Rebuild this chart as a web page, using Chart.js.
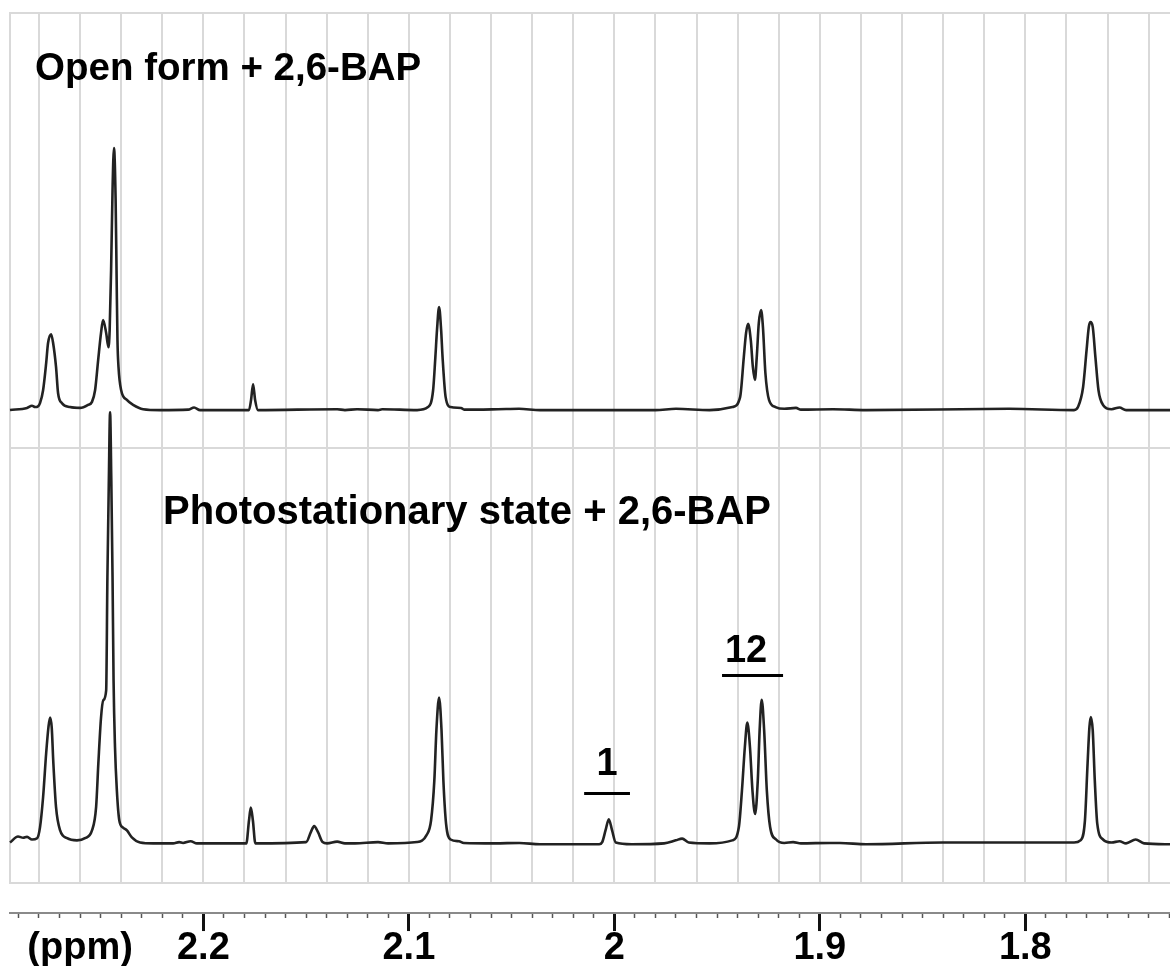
<!DOCTYPE html>
<html>
<head>
<meta charset="utf-8">
<title>Open form / photostationary state + 2,6-BAP</title>
<script src="https://cdn.jsdelivr.net/npm/chart.js@4.4.1/dist/chart.umd.min.js"></script>
<style>
  html, body { margin: 0; padding: 0; background: #fff; }
  #wrap { width: 1170px; height: 966px; position: relative; }
</style>
</head>
<body>
<div id="wrap"><canvas id="nmr"></canvas></div>
<script>
// 1H NMR traces: chemical shift (ppm) / intensity (arb. units, tallest line = 100)
const openShift = [
    2.2941, 2.2858, 2.2834, 2.2819, 2.2804, 2.2795, 2.2780, 2.2765, 2.2756, 2.2741, 2.2731, 2.2717, 2.2707, 2.2688, 2.2649, 2.2600,
    2.2561, 2.2542, 2.2527, 2.2512, 2.2498, 2.2488, 2.2473, 2.2462, 2.2456, 2.2449, 2.2442, 2.2435, 2.2427, 2.2422, 2.2418, 2.2413, 2.2400, 2.2371, 2.2342, 2.2293,
    2.2211, 2.2074, 2.2045, 2.2016, 2.1778, 2.1768, 2.1758, 2.1748, 2.1734, 2.1349, 2.1311, 2.1252, 2.1150, 2.1130, 2.0960,
    2.0907, 2.0882, 2.0871, 2.0863, 2.0853, 2.0843, 2.0836, 2.0821, 2.0797, 2.0746, 2.0731, 2.0566, 2.0464, 2.0362, 1.9800, 1.9700, 1.9537,
    1.9425, 1.9388, 1.9370, 1.9359, 1.9349, 1.9336, 1.9326, 1.9316, 1.9307, 1.9297, 1.9286, 1.9277, 1.9265, 1.9247, 1.9216, 1.9173, 1.9116, 1.9092, 1.8936, 1.8775, 1.8079,
    1.7763, 1.7744, 1.7719, 1.7702, 1.7691, 1.7683, 1.7672, 1.7659, 1.7644, 1.7622, 1.7580, 1.7542, 1.7510, 1.7296
];
const openIntensity = [
    0, 0.5, 1.0, 0.7, 0.9, 1.6, 4.6, 10.9, 15.5, 17.6, 15.5, 10.0, 3.9, 1.6, 0.7, 0.5,
    1.2, 1.9, 4.6, 11.6, 17.9, 20.9, 17.9, 14.6, 18.6, 32.5, 51.0, 60.8, 48.7, 30.2, 16.2, 10.0, 4.6, 2.3, 1.2, 0.2,
    0, 0.1, 0.6, 0, 0, 2.3, 6.0, 2.3, 0, 0.2, 0, 0.2, 0, 0.2, 0,
    0.7, 4.6, 12.3, 18.6, 23.9, 18.6, 12.3, 3.0, 0.7, 0.5, 0.1, 0.2, 0.3, 0, 0, 0.3, 0,
    0.7, 3.0, 12.3, 17.9, 20.0, 16.2, 10.0, 7.0, 12.3, 20.2, 23.2, 19.3, 8.6, 2.3, 0.7, 0.3, 0.5, 0.1, 0.2, 0, 0.3,
    0, 0.7, 5.3, 13.9, 19.3, 20.4, 19.3, 12.3, 4.6, 1.2, 0.2, 0.6, 0, 0
];

const pssShift = [
    2.2941, 2.2902, 2.2877, 2.2858, 2.2834, 2.2809, 2.2795, 2.2780, 2.2765, 2.2754, 2.2746, 2.2738, 2.2730, 2.2717, 2.2697, 2.2663, 2.2615,
    2.2576, 2.2542, 2.2522, 2.2511, 2.2498, 2.2487, 2.2473, 2.2467, 2.2460, 2.2454, 2.2448, 2.2442, 2.2437, 2.2430, 2.2421, 2.2409, 2.2392, 2.2372, 2.2348, 2.2308,
    2.2245, 2.2147, 2.2118, 2.2099, 2.2062, 2.2031, 2.1791, 2.1778, 2.1769, 2.1759, 2.1747, 2.1500, 2.1477, 2.1461, 2.1442, 2.1420, 2.1398, 2.1349, 2.1311, 2.1262, 2.1150, 2.1101,
    2.0960, 2.0914, 2.0892, 2.0876, 2.0866, 2.0853, 2.0841, 2.0832, 2.0819, 2.0797, 2.0756, 2.0733, 2.0581, 2.0462, 2.0362,
    2.0074, 2.0059, 2.0043, 2.0027, 2.0011, 1.9993, 1.9916, 1.9758, 1.9701, 1.9670, 1.9638, 1.9537,
    1.9426, 1.9394, 1.9379, 1.9365, 1.9353, 1.9340, 1.9328, 1.9315, 1.9302, 1.9293, 1.9283, 1.9271, 1.9258, 1.9242, 1.9213, 1.9173, 1.9130, 1.9092, 1.8950, 1.8902, 1.8775, 1.8403, 1.8079,
    1.7763, 1.7732, 1.7710, 1.7697, 1.7688, 1.7681, 1.7672, 1.7662, 1.7650, 1.7622, 1.7580, 1.7542, 1.7510, 1.7463, 1.7422, 1.7296
];
const pssIntensity = [
    0.2, 1.6, 1.3, 1.5, 0.9, 1.2, 3.7, 10.7, 20.9, 26.9, 29.2, 26.9, 18.6, 8.4, 3.0, 1.2, 0.7,
    1.2, 3.0, 8.4, 18.6, 29.2, 33.2, 35.5, 61.7, 84.2, 100, 84.2, 61.7, 37.8, 22.3, 12.3, 5.3, 3.7, 3.0, 1.4, 0.2,
    0, 0, 0.3, 0.1, 0.5, 0, 0, 5.3, 8.3, 5.3, 0, 0.3, 2.6, 4.0, 2.6, 0.3, 0, 0.4, 0, 0, 0.3, 0,
    0.3, 1.9, 5.3, 14.6, 26.2, 33.8, 26.2, 14.6, 4.6, 0.9, 0.5, 0.1, 0, 0.1, -0.2,
    -0.2, 0.3, 3.0, 5.6, 3.0, 0.2, -0.2, 0, 0.7, 1.1, 0.2, 0,
    0.7, 3.8, 12.3, 22.3, 28.0, 22.3, 12.3, 6.8, 14.6, 26.2, 33.3, 26.2, 12.3, 3.8, 0.9, 0.1, 0.3, 0, 0.1, 0.1, -0.2, 0.2, 0.2,
    0.2, 0.7, 5.3, 18.6, 27.0, 29.3, 26.2, 14.6, 4.6, 0.9, 0.2, 0.5, 0, 0.9, 0, -0.2
];

const shiftRange = [1.7296, 2.2941];
const labelledTicks = [2.2, 2.1, 2, 1.9, 1.8];
const unitTick = 2.26;
const unitLabel = '(ppm)';
const panelTitles = ['Open form + 2,6-BAP', 'Photostationary state + 2,6-BAP'];
const peakLabels = ['1', '12'];

const FONT = '"Liberation Sans", Arial, sans-serif';
const GRID = '#d9d9d9';

// text and integration bars, anchored in (ppm, intensity) of their panel
const notes = [
    { text: panelTitles[0], axis: 'yTop', at: [2.2819, 76.6], align: 'left', size: 38.5 },
    { text: panelTitles[1], axis: 'yBot', at: [2.2196, 74.0], align: 'left', size: 40 },
    { text: peakLabels[0], axis: 'yBot', at: [2.0036, 15.8], align: 'center', size: 38, bar: [2.0147, 1.9924, 11.8] },
    { text: peakLabels[1], axis: 'yBot', at: [1.9359, 42.0], align: 'center', size: 38, bar: [1.9476, 1.9179, 39.0] },
];

const notesPlugin = {
    id: 'notes',
    afterDatasetsDraw(chart) {
        const { ctx } = chart;
        const xs = chart.scales.x;
        ctx.save();
        ctx.fillStyle = '#000';
        ctx.strokeStyle = '#000';
        ctx.lineWidth = 3;
        ctx.textBaseline = 'alphabetic';
        notes.forEach(n => {
            const ys = chart.scales[n.axis];
            ctx.font = 'bold ' + n.size + 'px ' + FONT;
            ctx.textAlign = n.align;
            ctx.fillText(n.text, xs.getPixelForValue(n.at[0]), ys.getPixelForValue(n.at[1]));
            if (n.bar) {
                const y = Math.round(ys.getPixelForValue(n.bar[2])) + 0.5;
                ctx.beginPath();
                ctx.moveTo(xs.getPixelForValue(n.bar[0]), y);
                ctx.lineTo(xs.getPixelForValue(n.bar[1]), y);
                ctx.stroke();
            }
        });
        ctx.restore();
    }
};

const toPoints = (xs, ys) => xs.map((x, i) => ({ x, y: ys[i] }));
const isLabelled = v => labelledTicks.some(t => Math.abs(t - v) < 1e-6);
const onlyBounds = scale => { scale.ticks = [{ value: scale.min }, { value: scale.max }]; };

const traceStyle = {
    borderColor: '#222',
    borderWidth: 2.6,
    pointRadius: 0,
    fill: false,
    clip: false,   // the tall PSS line pokes up into the upper panel
    cubicInterpolationMode: 'monotone',
    xAxisID: 'x',
};

const panelAxis = (min, max, weight) => ({
    type: 'linear',
    position: 'left',
    stack: 'panels',
    stackWeight: 1,
    weight,
    min, max,
    afterBuildTicks: onlyBounds,
    ticks: { display: false },
    grid: { color: GRID, lineWidth: 2, drawTicks: false },
    border: { display: true, color: GRID, width: 2 },
});

new Chart(document.getElementById('nmr'), {
    type: 'line',
    data: {
        datasets: [
            { ...traceStyle, label: panelTitles[0], yAxisID: 'yTop', data: toPoints(openShift, openIntensity) },
            { ...traceStyle, label: panelTitles[1], yAxisID: 'yBot', data: toPoints(pssShift, pssIntensity) },
        ]
    },
    options: {
        responsive: true,
        maintainAspectRatio: false,
        animation: false,
        devicePixelRatio: 1,
        layout: { padding: { left: 10, top: 13, right: 0, bottom: 0 } },
        plugins: { legend: { display: false }, tooltip: { enabled: false } },
        scales: {
            // vertical grid every 0.02 ppm; its invisible tick marks leave the gap above the ppm axis
            x: {
                type: 'linear',
                position: 'bottom',
                weight: 0,
                reverse: true,
                min: shiftRange[0], max: shiftRange[1],
                ticks: { display: false, stepSize: 0.02, includeBounds: false },
                grid: { color: GRID, lineWidth: 2, drawTicks: true, tickLength: 30, tickColor: 'rgba(0,0,0,0)' },
                border: { display: true, color: GRID, width: 2 },
            },
            // ppm axis: minor ticks every 0.01, labels every 0.1
            xAxis: {
                type: 'linear',
                position: 'bottom',
                weight: 1,
                reverse: true,
                min: shiftRange[0], max: shiftRange[1],
                ticks: {
                    stepSize: 0.01,
                    includeBounds: false,
                    autoSkip: false,
                    minRotation: 0,
                    maxRotation: 0,
                    padding: 0,
                    color: '#000',
                    font: { family: FONT, size: 38, weight: 'bold', lineHeight: 0.92 },
                    callback: v => {
                        if (Math.abs(v - unitTick) < 1e-6) return unitLabel;
                        return isLabelled(v) ? String(Number(v.toFixed(1))) : '';
                    },
                },
                grid: {
                    drawOnChartArea: false,
                    drawTicks: true,
                    tickLength: 18,
                    tickColor: c => c.tick && isLabelled(c.tick.value) ? '#111' : '#555',
                    tickWidth: c => c.tick && isLabelled(c.tick.value) ? 3 : 1.5,
                    tickBorderDash: c => c.tick && isLabelled(c.tick.value) ? [] : [4, 40],
                },
                border: { display: true, color: '#8a8a8a', width: 2 },
            },
            yTop: panelAxis(-8.8, 92.1, 2),
            yBot: panelAxis(-9.2, 91.7, 1),
        }
    },
    plugins: [notesPlugin]
});
</script>
</body>
</html>
